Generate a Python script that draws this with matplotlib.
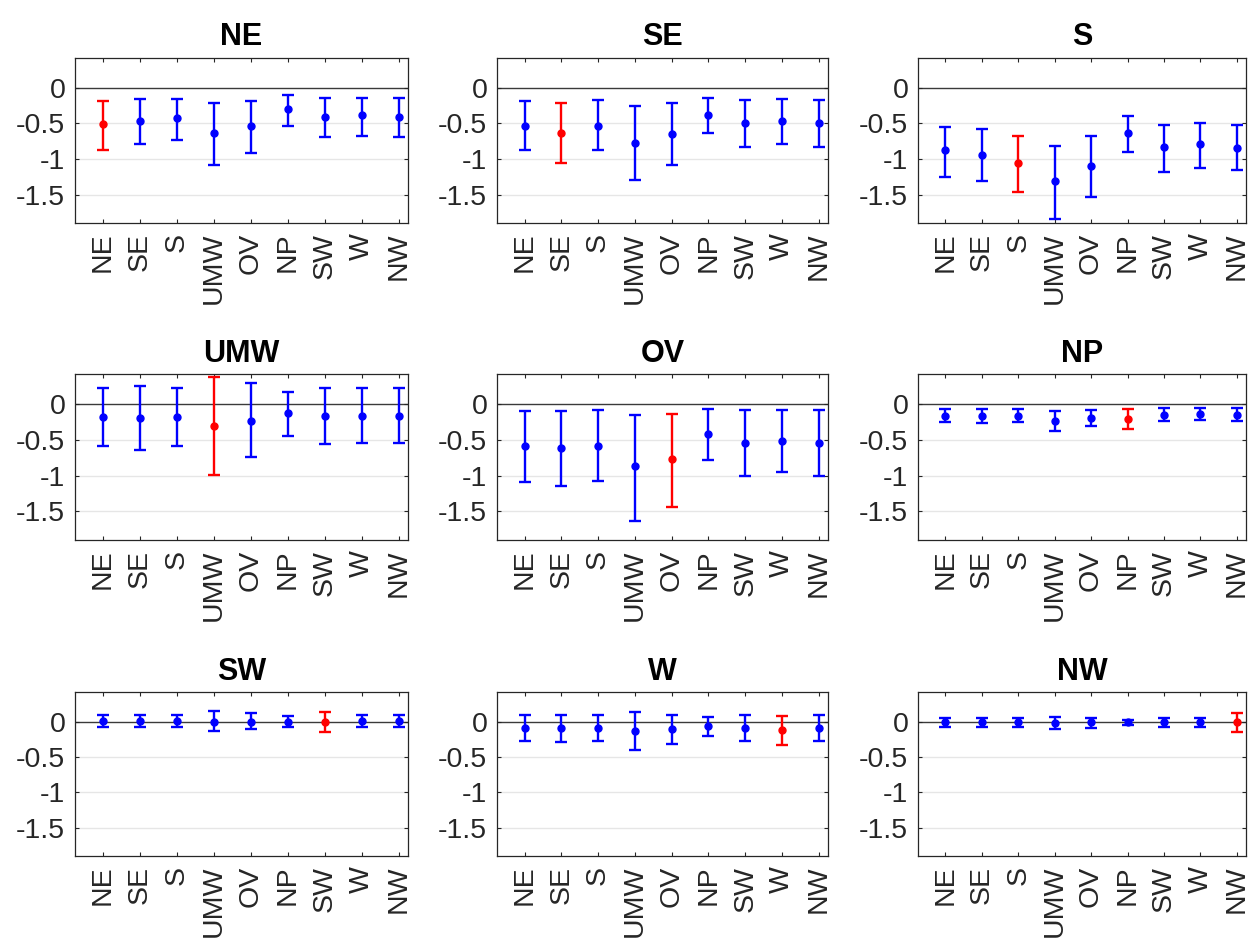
import matplotlib
matplotlib.use("Agg")
import matplotlib.pyplot as plt
import numpy as np

plt.rcParams['font.family'] = ['Liberation Sans', 'DejaVu Sans']

regions = ["NE", "SE", "S", "UMW", "OV", "NP", "SW", "W", "NW"]

# mean, lower bound, upper bound for each panel (panel title -> 9 regions)
ne_mean = [-0.51, -0.46, -0.42, -0.64, -0.54, -0.30, -0.41, -0.38, -0.41]
ne_low  = [-0.87, -0.79, -0.74, -1.08, -0.92, -0.54, -0.69, -0.67, -0.69]
ne_high = [-0.18, -0.16, -0.15, -0.21, -0.18, -0.10, -0.14, -0.14, -0.14]

se_mean = [-0.53, -0.64, -0.53, -0.77, -0.65, -0.38, -0.49, -0.47, -0.49]
se_low  = [-0.88, -1.06, -0.88, -1.30, -1.09, -0.64, -0.83, -0.79, -0.83]
se_high = [-0.18, -0.21, -0.17, -0.25, -0.21, -0.14, -0.17, -0.16, -0.17]

s_mean = [-0.88, -0.94, -1.05, -1.31, -1.10, -0.64, -0.83, -0.79, -0.84]
s_low  = [-1.25, -1.31, -1.47, -1.85, -1.54, -0.90, -1.18, -1.12, -1.16]
s_high = [-0.55, -0.58, -0.67, -0.82, -0.68, -0.40, -0.52, -0.49, -0.52]

umw_mean = [-0.18, -0.19, -0.18, -0.30, -0.23, -0.13, -0.17, -0.16, -0.17]
umw_low  = [-0.59, -0.64, -0.59, -0.99, -0.74, -0.44, -0.56, -0.54, -0.55]
umw_high = [0.23, 0.25, 0.23, 0.38, 0.29, 0.17, 0.23, 0.22, 0.23]

ov_mean = [-0.59, -0.62, -0.58, -0.87, -0.77, -0.42, -0.54, -0.52, -0.54]
ov_low  = [-1.09, -1.14, -1.07, -1.64, -1.44, -0.78, -1.01, -0.95, -1.00]
ov_high = [-0.10, -0.10, -0.09, -0.15, -0.14, -0.07, -0.09, -0.08, -0.09]

np_mean = [-0.16, -0.17, -0.17, -0.23, -0.19, -0.21, -0.15, -0.14, -0.15]
np_low  = [-0.25, -0.26, -0.25, -0.37, -0.31, -0.35, -0.24, -0.22, -0.23]
np_high = [-0.07, -0.07, -0.07, -0.10, -0.08, -0.07, -0.06, -0.06, -0.06]

sw_mean = [0.01, 0.01, 0.01, 0.00, 0.00, 0.00, -0.01, 0.01, 0.01]
sw_low  = [-0.08, -0.08, -0.08, -0.13, -0.10, -0.07, -0.15, -0.08, -0.08]
sw_high = [0.10, 0.10, 0.10, 0.15, 0.12, 0.08, 0.13, 0.09, 0.10]

w_mean = [-0.09, -0.09, -0.09, -0.13, -0.11, -0.06, -0.09, -0.12, -0.09]
w_low  = [-0.28, -0.29, -0.28, -0.40, -0.32, -0.20, -0.27, -0.33, -0.27]
w_high = [0.09, 0.10, 0.09, 0.13, 0.10, 0.07, 0.09, 0.08, 0.09]

nw_mean = [-0.01, -0.01, -0.01, -0.02, -0.01, -0.01, -0.01, -0.01, 0.00]
nw_low  = [-0.07, -0.07, -0.07, -0.10, -0.09, -0.05, -0.07, -0.07, -0.14]
nw_high = [0.05, 0.05, 0.05, 0.07, 0.05, 0.03, 0.05, 0.05, 0.12]

panels = [
    ("NE", ne_mean, ne_low, ne_high),
    ("SE", se_mean, se_low, se_high),
    ("S", s_mean, s_low, s_high),
    ("UMW", umw_mean, umw_low, umw_high),
    ("OV", ov_mean, ov_low, ov_high),
    ("NP", np_mean, np_low, np_high),
    ("SW", sw_mean, sw_low, sw_high),
    ("W", w_mean, w_low, w_high),
    ("NW", nw_mean, nw_low, nw_high),
]

yticks = [0, -0.5, -1, -1.5]
ytick_labels = ["0", "-0.5", "-1", "-1.5"]

fig = plt.figure(figsize=(12.56, 9.40), dpi=100)

col_left = [75, 497, 918]
col_width = [333, 331, 328]
row_top = [58, 374, 692]
row_height = [165, 166, 164]
W, H = 1256, 940

edge = '#262626'
x = np.arange(1, 10)

for i, (name, m, lo, hi) in enumerate(panels):
    r, c = divmod(i, 3)
    ax = fig.add_axes([col_left[c] / W, 1 - (row_top[r] + row_height[r]) / H,
                       col_width[c] / W, row_height[r] / H])
    m = np.array(m); lo = np.array(lo); hi = np.array(hi)
    ax.set_xlim(0.25, 9.25)
    ax.set_ylim(-1.9, 0.42)
    for yt in yticks[1:]:
        ax.axhline(yt, color='#e6e6e6', lw=1.0, zorder=0)
    ax.axhline(0, color='#3a3a3a', lw=1.0, zorder=1)
    hl = regions.index(name)
    for j in range(9):
        col = 'red' if j == hl else 'blue'
        ax.errorbar(x[j], m[j], yerr=[[m[j] - lo[j]], [hi[j] - m[j]]],
                    fmt='o', color=col, ecolor=col, ms=5, elinewidth=1.7,
                    capsize=4.5, capthick=1.7, zorder=3)
    ax.set_xticks(x)
    ax.set_xticklabels(regions, rotation=90, fontsize=20.5, color=edge)
    ax.set_yticks(yticks)
    ax.set_yticklabels(ytick_labels, fontsize=20.5, color=edge)
    ax.tick_params(direction='in', top=True, right=True, length=3,
                   width=0.8, color=edge, pad=7)
    for sp in ax.spines.values():
        sp.set_color(edge)
        sp.set_linewidth(0.9)
    ax.set_title(name, fontsize=22, fontweight='bold', pad=9)

fig.savefig("out.png", dpi=100)
